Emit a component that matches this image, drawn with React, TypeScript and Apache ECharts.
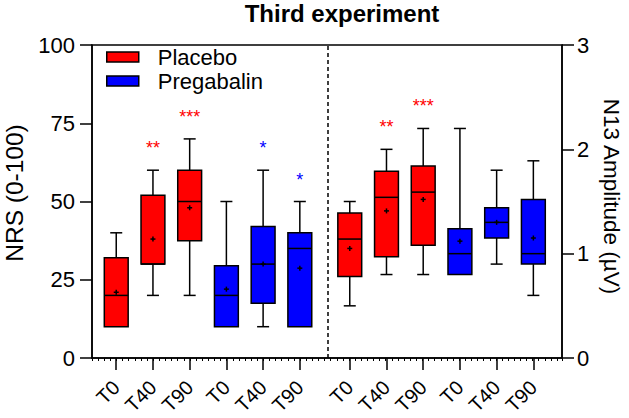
import React, { useEffect, useRef } from 'react';
import * as echarts from 'echarts';

// ---------- data ----------
const timepoints = ['T0', 'T40', 'T90'];
const groupNames = ['Placebo', 'Pregabalin'];
const groupColors = ['#ff0000', '#0000ff'];

// NRS (0-100), each box: [min, Q1, median, Q3, max]
const nrsPlacebo = [
  [10, 10, 20, 32, 40],
  [20, 30, 30, 52, 60],
  [20, 37.5, 50, 60, 70],
];
const nrsPlaceboMean = [21, 38, 48];
const nrsPregabalin = [
  [10, 10, 20, 29.5, 50],
  [10, 17.5, 30, 42, 60],
  [10, 10, 35, 40, 50],
];
const nrsPregabalinMean = [22, 30, 28.7];

// N13 amplitude (µV)
const n13Placebo = [
  [0.5, 0.78, 1.14, 1.39, 1.5],
  [0.8, 0.97, 1.54, 1.79, 2.0],
  [0.8, 1.08, 1.59, 1.84, 2.2],
];
const n13PlaceboMean = [1.05, 1.41, 1.52];
const n13Pregabalin = [
  [0.8, 0.8, 1.0, 1.24, 2.2],
  [0.9, 1.15, 1.3, 1.44, 1.8],
  [0.6, 0.9, 1.0, 1.52, 1.89],
];
const n13PregabalinMean = [1.12, 1.3, 1.15];

// significance marks
const nrsPlaceboStars = ['', '**', '***'];
const nrsPregabalinStars = ['', '*', '*'];
const n13PlaceboStars = ['', '**', '***'];
const n13PregabalinStars = ['', '', ''];

const nrsTicks = [0, 25, 50, 75, 100];
const n13Ticks = [0, 1, 2, 3];

// ---------- layout constants ----------
const FONT = '"Liberation Sans", Arial, Helvetica, sans-serif';
const LEFT_START = 0.66;
const RIGHT_START = 7.02;
const DIVIDER = 6.42;
const X_MAX = 12.8;
const MINOR_PER_UNIT = 6;

function buildItems(boxes: number[][], means: number[], start: number) {
  return boxes.map((b, i) => [start + i, b[0], b[1], b[2], b[3], b[4], means[i]]);
}

function makeRender(stars: string[], color: string) {
  return (params: any, api: any) => {
    const x = api.value(0);
    const vMin = api.value(1);
    const vQ1 = api.value(2);
    const vMed = api.value(3);
    const vQ3 = api.value(4);
    const vMax = api.value(5);
    const vMean = api.value(6);
    const c = api.coord([x, vMed]);
    const cx = c[0];
    const yMed = c[1];
    const yMin = api.coord([x, vMin])[1];
    const yQ1 = api.coord([x, vQ1])[1];
    const yQ3 = api.coord([x, vQ3])[1];
    const yMax = api.coord([x, vMax])[1];
    const yMean = api.coord([x, vMean])[1];
    const unit = api.size([1, 0])[0];
    const half = (unit * 0.65) / 2;
    const cap = 6;
    const lw = 1.5;
    const stroke = { stroke: '#000', lineWidth: lw };
    const children: any[] = [];
    if (vMax > vQ3) {
      children.push({ type: 'line', shape: { x1: cx, y1: yMax, x2: cx, y2: yQ3 }, style: stroke });
      children.push({ type: 'line', shape: { x1: cx - cap, y1: yMax, x2: cx + cap, y2: yMax }, style: stroke });
    }
    if (vMin < vQ1) {
      children.push({ type: 'line', shape: { x1: cx, y1: yQ1, x2: cx, y2: yMin }, style: stroke });
      children.push({ type: 'line', shape: { x1: cx - cap, y1: yMin, x2: cx + cap, y2: yMin }, style: stroke });
    }
    children.push({
      type: 'rect',
      shape: { x: cx - half, y: yQ3, width: half * 2, height: yQ1 - yQ3 },
      style: { fill: color, stroke: '#000', lineWidth: lw },
    });
    children.push({ type: 'line', shape: { x1: cx - half, y1: yMed, x2: cx + half, y2: yMed }, style: stroke });
    children.push({ type: 'line', shape: { x1: cx - 2.5, y1: yMean, x2: cx + 2.5, y2: yMean }, style: stroke });
    children.push({ type: 'line', shape: { x1: cx, y1: yMean - 2.5, x2: cx, y2: yMean + 2.5 }, style: stroke });
    const s = stars[params.dataIndex];
    if (s) {
      children.push({
        type: 'text',
        x: cx,
        y: yMax - 22,
        style: {
          text: s,
          fill: color,
          fontSize: 18,
          fontFamily: FONT,
          align: 'center',
          verticalAlign: 'middle',
        },
      });
    }
    return { type: 'group', children };
  };
}

export default function App() {
  const ref = useRef<HTMLDivElement>(null);
  useEffect(() => {
    if (!ref.current) return;
    const chart = echarts.init(ref.current, undefined, { renderer: 'svg' });

    const labelPositions: number[] = [];
    const labelTexts: string[] = [];
    [LEFT_START, RIGHT_START].forEach((start) => {
      for (let g = 0; g < 2; g++) {
        timepoints.forEach((t, i) => {
          labelPositions.push(start + g * 3 + i);
          labelTexts.push(t);
        });
      }
    });
    const labelFor = (v: number) => {
      let best = 0;
      let bd = Infinity;
      labelPositions.forEach((p, i) => {
        const d = Math.abs(p - v);
        if (d < bd) {
          bd = d;
          best = i;
        }
      });
      return labelTexts[best];
    };

    const seriesDefs = [
      { name: groupNames[0], color: groupColors[0], y: 0, data: buildItems(nrsPlacebo, nrsPlaceboMean, LEFT_START), stars: nrsPlaceboStars },
      { name: groupNames[1], color: groupColors[1], y: 0, data: buildItems(nrsPregabalin, nrsPregabalinMean, LEFT_START + 3), stars: nrsPregabalinStars },
      { name: groupNames[0], color: groupColors[0], y: 1, data: buildItems(n13Placebo, n13PlaceboMean, RIGHT_START), stars: n13PlaceboStars },
      { name: groupNames[1], color: groupColors[1], y: 1, data: buildItems(n13Pregabalin, n13PregabalinMean, RIGHT_START + 3), stars: n13PregabalinStars },
    ];

    const series: any[] = seriesDefs.map((d, idx) => ({
      type: 'custom',
      name: d.name,
      xAxisIndex: 0,
      yAxisIndex: d.y,
      itemStyle: { color: d.color },
      encode: { x: 0, y: [1, 2, 3, 4, 5] },
      data: d.data,
      renderItem: makeRender(d.stars, d.color),
      z: 3,
      ...(idx === 0
        ? {
            markLine: {
              silent: true,
              symbol: ['none', 'none'],
              label: { show: false },
              lineStyle: { color: '#000', type: [4, 3], width: 1.5 },
              data: [{ xAxis: DIVIDER }],
            },
          }
        : {}),
    }));

    const axisLineStyle = { color: '#000', width: 1.5 };

    const option: any = {
      animation: false,
      backgroundColor: '#fff',
      title: {
        text: 'Third experiment',
        left: 337,
        top: -4,
        textAlign: 'center',
        textStyle: { fontSize: 24, fontWeight: 'bold', color: '#000', fontFamily: FONT },
      },
      legend: {
        orient: 'vertical',
        left: 106,
        top: 46,
        padding: 0,
        itemWidth: 32,
        itemHeight: 10,
        itemGap: 2,
        textStyle: { fontSize: 22, color: '#000', fontFamily: FONT, padding: [0, 0, 0, 14] },
        data: groupNames.map((n, i) => ({
          name: n,
          icon: 'rect',
          itemStyle: { color: groupColors[i], borderColor: '#000', borderWidth: 1.5 },
        })),
      },
      grid: {
        left: 92,
        right: 67,
        top: 45,
        bottom: 60,
        show: true,
        borderColor: '#000',
        borderWidth: 1.5,
        containLabel: false,
        outerBoundsMode: 'none',
      },
      xAxis: [
        {
          type: 'value',
          min: 0,
          max: X_MAX,
          position: 'bottom',
          axisLine: { show: true, onZero: false, lineStyle: axisLineStyle },
          axisTick: { show: true, length: 12, customValues: labelPositions, lineStyle: axisLineStyle },
          axisLabel: {
            show: true,
            customValues: labelPositions,
            rotate: 45,
            margin: 26,
            fontSize: 20,
            color: '#000',
            fontFamily: FONT,
            formatter: (v: number) => labelFor(v),
          },
          splitLine: { show: false },
        },
        {
          type: 'value',
          min: 0,
          max: X_MAX * MINOR_PER_UNIT,
          interval: 1,
          position: 'bottom',
          offset: 0,
          axisLine: { show: false, onZero: false },
          axisTick: { show: true, length: 3, lineStyle: { color: '#000', width: 1 } },
          axisLabel: { show: false },
          splitLine: { show: false },
        },
      ],
      yAxis: [
        {
          type: 'value',
          min: nrsTicks[0],
          max: nrsTicks[nrsTicks.length - 1],
          interval: 25,
          position: 'left',
          name: 'NRS (0-100)',
          nameLocation: 'middle',
          nameGap: 64,
          nameTextStyle: { fontSize: 24.5, color: '#000', fontFamily: FONT, padding: [0, 0, 0, 17] },
          axisLine: { show: true, onZero: false, lineStyle: axisLineStyle },
          axisTick: { show: true, length: 12, lineStyle: axisLineStyle },
          axisLabel: { fontSize: 22, color: '#000', fontFamily: FONT, margin: 17 },
          splitLine: { show: false },
        },
        {
          type: 'value',
          min: n13Ticks[0],
          max: n13Ticks[n13Ticks.length - 1],
          interval: 1,
          position: 'right',
          name: 'N13 Amplitude (µV)',
          nameLocation: 'middle',
          nameRotate: -90,
          nameGap: 34,
          nameTextStyle: { fontSize: 22.5, color: '#000', fontFamily: FONT, padding: [0, 10, 0, 0] },
          axisLine: { show: true, onZero: false, lineStyle: axisLineStyle },
          axisTick: { show: true, length: 12, lineStyle: axisLineStyle },
          axisLabel: { fontSize: 22, color: '#000', fontFamily: FONT, margin: 15 },
          splitLine: { show: false },
        },
      ],
      series,
    };
    chart.setOption(option);
    return () => chart.dispose();
  }, []);

  return (
    <div
      ref={ref}
      style={{ position: 'fixed', left: 0, top: 0, width: 629, height: 418, background: '#fff' }}
    />
  );
}
